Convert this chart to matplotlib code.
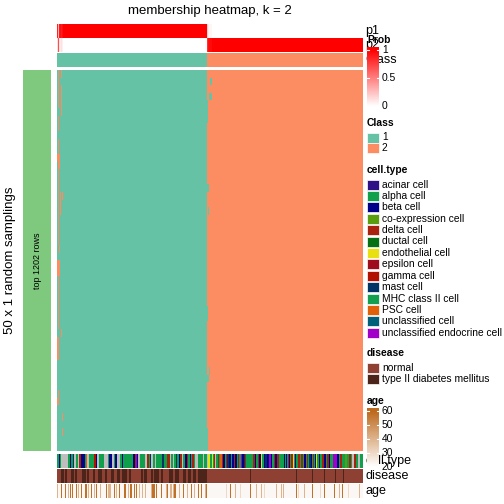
import numpy as np
import matplotlib.pyplot as plt
from matplotlib.colors import ListedColormap, LinearSegmentedColormap, Normalize, to_rgb
from matplotlib.patches import Rectangle

plt.rcParams['font.family'] = ['Liberation Sans', 'DejaVu Sans']

W = H = 504

# --- data ---
n_samplings = 50

# one code per sample (column), left block = class 1, right block = class 2
cell_left = ("LLBLNNNNNNNLLBLLMNNLLNDDBBBBLSNNLLLLLGGBNNLLLLLNNNNLBBBNNLBBNNNLLBLLLLLLLLLL"
             "BBDYBNNLLLLLNNDDLMNNLLNLLLLLLMMLLLDDDNLLNLLMLLBDDNLLBBDLLBLDDLNNNLLLLLNLLL")
cell_right = ("NEEL"
              "ELDNLLDLSSDBBLDMMBBLBBDBBLDLLYBBMDLLLLLLLDDBLLDBBELLBMMBBYYBLLDBBDDLLLLLBLBLDB"
              "LDDELBLLDDLDDLBBLDLMMBLDLBELLBLLDDBBLDDBLLLYYYYBBLDDLLLCCLLDDLNNDDLLNNLLL")

cell_names = {
    "A": "acinar cell", "L": "alpha cell", "B": "beta cell", "C": "co-expression cell",
    "D": "delta cell", "U": "ductal cell", "E": "endothelial cell", "P": "epsilon cell",
    "G": "gamma cell", "M": "mast cell", "H": "MHC class II cell", "S": "PSC cell",
    "X": "unclassified cell", "Y": "unclassified endocrine cell",
}
cell_colors = {
    "A": "#2e0f87", "L": "#10a04b", "B": "#00008b", "C": "#5a9e0f", "D": "#a8220e",
    "U": "#057014", "E": "#e8e010", "P": "#9e0c1e", "G": "#b21000", "M": "#003366",
    "H": "#12a050", "S": "#e0600a", "X": "#00607a", "Y": "#a000c8", "N": "#bebebe",
}

# samplings where a sample got the other class: (first row, end row, column)
flips = [
    (0, 5, 1), (0, 1, 4), (2, 5, 4), (5, 6, 4), (6, 8, 1), (9, 11, 1),
    (11, 12, 0), (11, 12, 1), (11, 12, 2), (12, 13, 2), (12, 23, 1),
    (16, 19, 3), (16, 17, 5), (23, 24, 2), (25, 27, 0), (25, 27, 1), (25, 27, 2),
    (27, 34, 1), (34, 35, 4), (35, 38, 0), (35, 38, 1), (42, 43, 1),
    (43, 44, 0), (43, 44, 1), (45, 46, 5), (47, 48, 5),
    (1, 2, 153), (3, 4, 152), (3, 4, 153), (4, 7, 150), (15, 16, 150), (15, 16, 151),
    (18, 19, 151), (31, 33, 150), (39, 40, 152), (40, 41, 150), (40, 41, 151), (47, 50, 150),
]

disease_levels = ["normal", "type II diabetes mellitus"]
disease_colors = ["#8e4133", "#4d2419"]
diabetes_cols = [4, 5, 6, 8, 9, 14, 15, 16, 18, 19, 25, 26, 27, 28, 30, 31, 36, 37,
                 41, 42, 43, 44, 48, 49, 54, 55, 56, 60, 61, 62, 65, 66, 67, 68, 69,
                 72, 73, 84, 85, 87, 88, 89, 94, 95, 97, 98, 99, 100, 101, 104, 105,
                 112, 113, 114, 115, 118, 119, 120, 121, 126, 127, 128, 131, 132, 133,
                 136, 137, 138, 141, 142, 143, 144, 145, 146, 147, 148, 149,
                 192, 238, 254, 266, 277, 285]

age_base = 22
age_old = 58
age_mid = 40
age_faint = 30
age_old_cols = [4, 8, 13, 15, 19, 24, 28, 29, 34, 39, 49, 57, 62, 67, 68, 73, 74,
                77, 79, 95, 96, 97, 99, 104, 110, 117, 118, 126, 134, 141, 144, 149,
                172, 192, 238, 254, 266, 276, 284]
age_mid_cols = [0, 11, 21, 31, 37, 43, 51, 52, 53, 59, 71, 82, 85, 88, 94, 109,
                113, 114, 116, 122, 130, 137, 148, 177, 198, 203, 218, 223, 225,
                246, 281, 301]
age_faint_cols = [168, 182, 206, 240, 262, 290]

# --- derived arrays ---
codes = cell_left + cell_right
n_cols = len(codes)
n_left = len(cell_left)

base = np.where(np.arange(n_cols) < n_left, 1, 2)
mat = np.tile(base, (n_samplings, 1))
for r0, r1, c in flips:
    mat[r0:r1, c] = 3 - base[c]

p1 = (mat == 1).mean(axis=0)
p2 = 1 - p1

disease = np.zeros(n_cols, dtype=int)
disease[diabetes_cols] = 1

age = np.full(n_cols, float(age_base))
age[age_faint_cols] = age_faint
age[age_mid_cols] = age_mid
age[age_old_cols] = age_old

# --- colours ---
class_cmap = ListedColormap(["#66C2A5", "#FC8D62"])
prob_cmap = LinearSegmentedColormap.from_list("prob", ["#FFFFFF", "#FF0000"])
age_cmap = LinearSegmentedColormap.from_list("age", ["#FFFFFF", "#BD6A1D"])
age_norm = Normalize(20, 60)
dis_cmap = ListedColormap(disease_colors)

fig = plt.figure(figsize=(W / 100, H / 100), dpi=100)


def px_axes(x0, y0, x1, y1):
    a = fig.add_axes([x0 / W, 1 - y1 / H, (x1 - x0) / W, (y1 - y0) / H])
    a.set_axis_off()
    return a


X0, X1 = 56.7, 362

ax = px_axes(X0, 24, X1, 37.7)
ax.imshow(p1[None, :], cmap=prob_cmap, vmin=0, vmax=1, aspect='auto', interpolation='nearest')
ax = px_axes(X0, 38, X1, 51.7)
ax.imshow(p2[None, :], cmap=prob_cmap, vmin=0, vmax=1, aspect='auto', interpolation='nearest')
ax = px_axes(X0, 53.3, X1, 66.7)
ax.imshow(base[None, :], cmap=class_cmap, vmin=1, vmax=2, aspect='auto', interpolation='nearest')

ax = px_axes(X0, 70, X1, 451)
ax.imshow(mat, cmap=class_cmap, vmin=1, vmax=2, aspect='auto', interpolation='nearest')

ax = px_axes(23, 70, 51, 451)
ax.add_patch(Rectangle((0, 0), 1, 1, color="#7FC97F"))
ax.text(0.5, 0.5, "top 1202 rows", rotation=90, ha='center', va='center', fontsize=6.5)

ct_rgb = np.array([to_rgb(cell_colors[c]) for c in codes])
ax = px_axes(X0, 454, X1, 468)
ax.imshow(ct_rgb[None, :, :], aspect='auto', interpolation='nearest')
ax = px_axes(X0, 469.3, X1, 482.7)
ax.imshow(disease[None, :], cmap=dis_cmap, vmin=0, vmax=1, aspect='auto', interpolation='nearest')
ax = px_axes(X0, 484, X1, 498)
ax.imshow(age[None, :], cmap=age_cmap, norm=age_norm, aspect='auto', interpolation='nearest')

# overlay in pixel coordinates for texts and legends
ov = fig.add_axes([0, 0, 1, 1])
ov.set_axis_off()

ov.text(210, 11, "membership heatmap, k = 2", ha='center', va='center', fontsize=9.5)
ov.text(10, 260, "50 x 1 random samplings", rotation=90, ha='center', va='center', fontsize=9.5)

# annotation names sit under the legends, as in the original
for lab, y in [("p1", 31), ("p2", 45), ("Class", 60),
               ("cell.type", 461), ("disease", 476), ("age", 491)]:
    ov.text(365, y, lab, ha='left', va='center', fontsize=9, zorder=2)

LX0, LX1, TX = 367, 379, 382
fs = 7.4

# Prob legend
ov.text(LX0, 40, "Prob", ha='left', va='center', fontsize=fs, fontweight='bold', zorder=6)
grad = np.linspace(1.05, -0.03, 120)
ov.imshow(np.clip(grad, 0, 1)[:, None], cmap=prob_cmap, vmin=0, vmax=1, aspect='auto',
          extent=(LX0, LX1, 107.7, 47.2), origin='upper', interpolation='bilinear', zorder=4)
for v in [0, 0.5, 1]:
    y = 106 - v * 56
    ov.plot([LX0, LX0 + 2], [y, y], color='white', lw=0.8, zorder=5)
    ov.plot([LX1 - 2, LX1], [y, y], color='white', lw=0.8, zorder=5)
    ov.text(TX, y, f"{v:g}", ha='left', va='center', fontsize=fs, zorder=6)

# Class legend
ov.text(LX0, 123, "Class", ha='left', va='center', fontsize=fs, fontweight='bold')
for i, lab in enumerate(["1", "2"]):
    y0 = 132.5 + i * 10.5
    ov.add_patch(Rectangle((LX0, y0), LX1 - LX0, 10, facecolor=class_cmap(i), edgecolor='white', lw=0.5))
    ov.text(TX, y0 + 5, lab, ha='left', va='center', fontsize=fs)

# cell.type legend
ov.text(LX0, 170, "cell.type", ha='left', va='center', fontsize=fs, fontweight='bold')
for i, code in enumerate(cell_names):
    y0 = 179.5 + i * 11.4
    ov.add_patch(Rectangle((LX0, y0), LX1 - LX0, 10, facecolor=cell_colors[code], edgecolor='white', lw=0.5))
    ov.text(TX, y0 + 5, cell_names[code], ha='left', va='center', fontsize=fs)

# disease legend
ov.text(LX0, 353, "disease", ha='left', va='center', fontsize=fs, fontweight='bold')
for i, lab in enumerate(disease_levels):
    y0 = 363 + i * 11.4
    ov.add_patch(Rectangle((LX0, y0), LX1 - LX0, 10, facecolor=disease_colors[i], edgecolor='white', lw=0.5))
    ov.text(TX, y0 + 5, lab, ha='left', va='center', fontsize=fs)

# age legend
ov.text(LX0, 401, "age", ha='left', va='center', fontsize=fs, fontweight='bold')
agrad = np.linspace(62.1, 19.3, 120)
ov.imshow(agrad[:, None], cmap=age_cmap, norm=age_norm, aspect='auto',
          extent=(LX0, LX1, 468, 408), origin='upper', interpolation='bilinear', zorder=4)
for v in [20, 30, 40, 50, 60]:
    y = 467 - (v - 20) * 1.4
    ov.plot([LX0, LX0 + 2], [y, y], color='white', lw=0.8, zorder=5)
    ov.plot([LX1 - 2, LX1], [y, y], color='white', lw=0.8, zorder=5)
    ov.text(TX, y, str(v), ha='left', va='center', fontsize=fs, zorder=6)

ov.set_xlim(0, W)
ov.set_ylim(H, 0)

fig.savefig("out.png", dpi=100)
